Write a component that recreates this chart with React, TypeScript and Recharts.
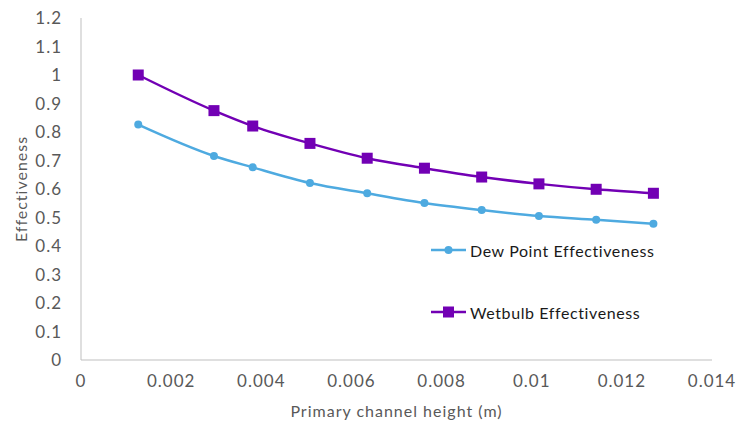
import { Line, LineChart, XAxis, YAxis } from "recharts";

// Channel heights (m) and effectiveness values per series
const heights = [0.00127, 0.00295, 0.00381, 0.00508, 0.00635, 0.00762, 0.00889, 0.01016, 0.01143, 0.0127];
const dewPoint = [0.826, 0.716, 0.676, 0.621, 0.585, 0.551, 0.526, 0.505, 0.492, 0.478];
const wetbulb = [1.0, 0.875, 0.821, 0.76, 0.708, 0.673, 0.642, 0.618, 0.599, 0.585];

const xTicks = [0, 0.002, 0.004, 0.006, 0.008, 0.01, 0.012, 0.014];
const yTicks = [0, 0.1, 0.2, 0.3, 0.4, 0.5, 0.6, 0.7, 0.8, 0.9, 1, 1.1, 1.2];

const DEW = "#4eaae0";
const WET = "#7200b4";
const FONT = "Lato, 'Open Sans', sans-serif";

const data = heights.map((h, i) => ({ h, dew: dewPoint[i], wet: wetbulb[i] }));

const tickStyle = { fontSize: 17, fill: "#595959", fontFamily: FONT, letterSpacing: 1 };
const titleStyle = { fontSize: 16, fill: "#595959", fontFamily: FONT, letterSpacing: 1 };

function fmt(v: number): string {
  return String(Number(v.toFixed(3)));
}

function SquareDot(props: any) {
  const { cx, cy, index } = props;
  if (cx == null || cy == null) return null;
  return <rect key={`sq-${index}`} x={cx - 5.5} y={cy - 5.5} width={11} height={11} fill={WET} />;
}

// Legend sits inside the plot area, so it is drawn over the chart instead of taking layout space
function LegendBox() {
  const items = [
    { label: "Dew Point Effectiveness", color: DEW, square: false },
    { label: "Wetbulb Effectiveness", color: WET, square: true },
  ];
  return (
    <div style={{ position: "absolute", left: 431, top: 240, fontFamily: FONT }}>
      {items.map((it, i) => (
        <div
          key={it.label}
          style={{ display: "flex", alignItems: "center", height: 20, marginTop: i === 0 ? 0 : 42 }}
        >
          <svg width={38} height={20}>
            <line x1={0} y1={10} x2={35} y2={10} stroke={it.color} strokeWidth={2.5} />
            {it.square ? (
              <rect x={12} y={4.5} width={11} height={11} fill={it.color} />
            ) : (
              <circle cx={17.5} cy={10} r={4} fill={it.color} />
            )}
          </svg>
          <span style={{ fontSize: 16, color: "#1a1a1a", letterSpacing: 0.6, marginLeft: 1, whiteSpace: "nowrap" }}>
            {it.label}
          </span>
        </div>
      ))}
    </div>
  );
}

export default function App() {
  return (
    <div style={{ position: "absolute", left: 0, top: 0, width: 743, height: 430, background: "#fff" }}>
      <LineChart width={743} height={430} data={data} margin={{ top: 18, right: 31, left: 0, bottom: 0 }}>
        <XAxis
          dataKey="h"
          type="number"
          domain={[0, 0.014]}
          ticks={xTicks}
          interval={0}
          tickFormatter={fmt}
          tick={tickStyle}
          tickLine={false}
          tickMargin={9}
          stroke="#bfbfbf"
          height={70}
          label={{
            value: "Primary channel height (m)",
            position: "insideBottom",
            offset: 13,
            style: titleStyle,
          }}
        />
        <YAxis
          type="number"
          domain={[0, 1.2]}
          ticks={yTicks}
          interval={0}
          tickFormatter={fmt}
          tick={tickStyle}
          tickLine={false}
          tickMargin={13}
          stroke="#bfbfbf"
          width={81}
          label={{
            value: "Effectiveness",
            angle: -90,
            position: "center",
            dx: -19,
            style: { ...titleStyle, textAnchor: "middle" },
          }}
        />
        <Line
          type="monotone"
          dataKey="dew"
          name="Dew Point Effectiveness"
          stroke={DEW}
          strokeWidth={2.5}
          dot={{ r: 4, fill: DEW, stroke: DEW, strokeWidth: 0 }}
          isAnimationActive={false}
        />
        <Line
          type="monotone"
          dataKey="wet"
          name="Wetbulb Effectiveness"
          stroke={WET}
          strokeWidth={2.5}
          dot={<SquareDot />}
          isAnimationActive={false}
        />
      </LineChart>
      <LegendBox />
    </div>
  );
}
